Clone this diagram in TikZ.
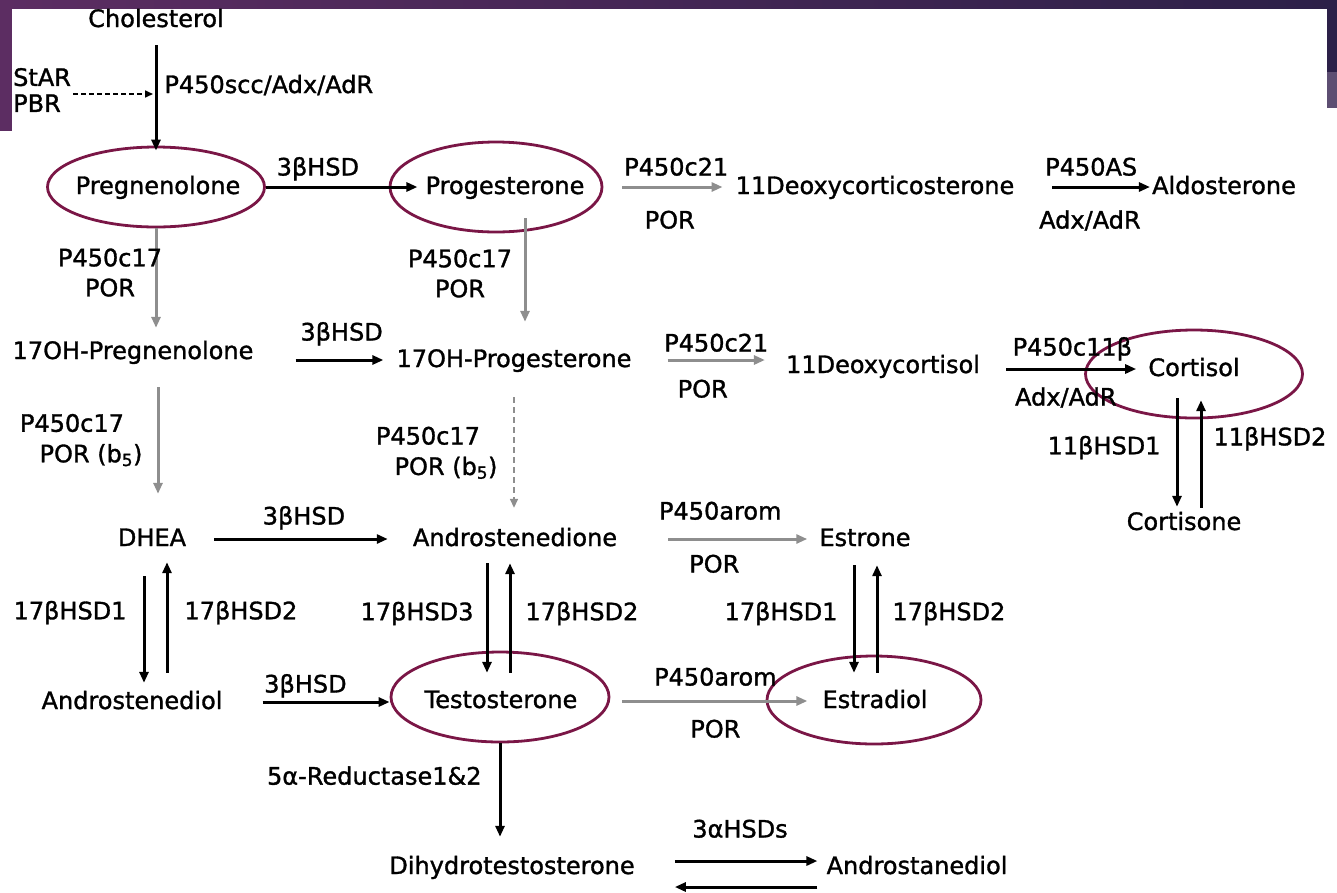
\documentclass[tikz,border=0pt]{standalone}
\usepackage{fontspec}
\setmainfont{DejaVu Sans}[FakeBold=1.3]
\usepackage{xcolor}
\usetikzlibrary{arrows.meta, positioning, shapes.geometric}
\definecolor{ringPurple}{HTML}{7A1646}
\definecolor{barPlum}{HTML}{5C2D62}
\definecolor{barNavy}{HTML}{2C2048}
\definecolor{barLilac}{HTML}{5D4E72}
\definecolor{pathGray}{HTML}{8E8E8E}

\begin{document}
\begin{tikzpicture}[x=1pt, y=-1pt,
      every node/.style={font=\fontsize{24}{26}\selectfont, inner sep=2pt, text=black},
      chem/.style={text height=18pt, text depth=4pt},
      ring/.style={ellipse, draw=ringPurple, line width=2.8pt, inner sep=0pt},
      blk/.style={-{Triangle[length=11pt, width=9pt]}, line width=3pt},
      gry/.style={blk, pathGray},
      gdash/.style={-{Triangle[length=9pt, width=8pt]}, line width=1.5pt,
                    pathGray, dash pattern=on 6pt off 4pt},
      kdash/.style={-{Triangle[length=8pt, width=7pt]}, line width=1.6pt,
                    dash pattern=on 5pt off 3pt},
    ]
      \useasboundingbox (0,0) rectangle (1337,892);
      \fill[left color=barPlum, right color=barNavy] (0,0) rectangle (1337,8);
      \fill[barPlum] (0,0) rectangle (12,131);
      \fill[barNavy] (1327,0) rectangle (1337,72);
      \fill[barLilac] (1327,72) rectangle (1337,108);

      \node[chem] (chol)      at (156,20)  {Cholesterol};
      \node[align=left, anchor=west] (starpbr) at (11,90) {StAR\\PBR};
      \node[chem] (preg)      at (158,187) {Pregnenolone};
      \node[chem] (prog)      at (505,187) {Progesterone};
      \node[chem] (doc)       at (875,187) {11Deoxycorticosterone};
      \node[chem] (aldo)      at (1224,187) {Aldosterone};
      \node[chem] (ohpreg)    at (133,352) {17OH-Pregnenolone};
      \node[chem] (ohprog)    at (514,360) {17OH-Progesterone};
      \node[chem] (deoxcort)  at (883,366) {11Deoxycortisol};
      \node[chem] (cortisol)  at (1194,369) {Cortisol};
      \node[chem] (cortisone) at (1184,523) {Cortisone};
      \node[chem] (dhea)      at (152,539) {DHEA};
      \node[chem] (andro)     at (515,539) {Androstenedione};
      \node[chem] (estrone)   at (865,539) {Estrone};
      \node[chem] (adiol)     at (132,702) {Androstenediol};
      \node[chem] (testo)     at (501,701) {Testosterone};
      \node[chem] (estradiol) at (875,701) {Estradiol};
      \node[chem] (dht)       at (512,867) {Dihydrotestosterone};
      \node[chem] (adiolb)    at (917,867) {Androstanediol};

      \node[ring, minimum width=217pt, minimum height=80pt] (pregR)  at (156,187) {};
      \node[ring, minimum width=212pt, minimum height=90pt] (progR)  at (496,187) {};
      \node[ring, minimum width=217pt, minimum height=88pt] (cortR)  at (1194,374) {};
      \node[ring, minimum width=218pt, minimum height=90pt] (testoR) at (500,697) {};
      \node[ring, minimum width=214pt, minimum height=88pt] (estrR)  at (874,700) {};

      \coordinate (sccin) at (153,94);
      \draw[blk, shorten <=12pt, shorten >=-5pt] (chol) -- (pregR)
        node[chem, pos=.47, right=5pt] {P450scc/Adx/AdR};
      \draw[kdash] (starpbr.east |- sccin) -- (sccin);

      \draw[blk, shorten >=6pt] (pregR.east) -- (prog.west)
        node[chem, pos=.33, above=4pt] {3βHSD};
      \draw[gry, shorten <=19pt, shorten >=11pt] (progR.east) -- (doc.west)
        node[chem, pos=.56, above=4pt] {P450c21}
        node[chem, pos=.51, below=20pt] {POR};
      \draw[blk, shorten <=36pt] (doc.east) -- (aldo.west)
        node[chem, pos=.56, above=4pt] {P450AS}
        node[chem, pos=.55, below=20pt] {Adx/AdR};

      \draw[gry, shorten >=11pt] (pregR.south) -- (pregR.south |- ohpreg.north)
        node[pos=.4, xshift=-46pt, align=center] {P450c17\\[4pt]POR};
      \draw[gry, shorten <=18pt, shorten >=25pt]
        ([xshift=20pt]prog.south) -- ([xshift=20pt]prog.south |- ohprog.north)
        node[pos=.5, xshift=-65pt, align=center] {P450c17\\[4pt]POR};

      \draw[blk, shorten <=40pt, shorten >=11pt] (ohpreg.east |- ohprog) -- (ohprog.west)
        node[chem, pos=.62, above=12pt] {3βHSD};
      \draw[gry, shorten <=34pt, shorten >=19pt] (ohprog.east) -- (ohprog.east -| deoxcort.west)
        node[chem, pos=.55, above=1pt] {P450c21}
        node[chem, pos=.46, below=16pt] {POR};
      \draw[blk, shorten <=24pt, shorten >=10pt] (deoxcort.east |- cortisol) -- (cortisol.west)
        node[chem, pos=.55, above=6pt] {P450c11β}
        node[chem, pos=.51, below=15pt] {Adx/AdR};

      \draw[blk, shorten <=16pt, shorten >=3pt]
        ([xshift=-17pt]cortisol.south) -- ([xshift=-17pt]cortisol.south |- cortisone.north)
        node[chem, pos=.51, left=13pt] {11βHSD1};
      \draw[blk, shorten <=2pt, shorten >=18pt]
        ([xshift=7pt]cortisol.south |- cortisone.north) -- ([xshift=7pt]cortisol.south)
        node[chem, pos=.56, right=9pt] {11βHSD2};

      \draw[gry, shorten <=22pt, shorten >=32pt]
        ([xshift=25pt]ohpreg.south) -- ([xshift=25pt]ohpreg.south |- dhea.north)
        node[pos=.36, xshift=-86pt] {P450c17}
        node[pos=.56, xshift=-67pt] {POR (b\textsubscript{5})};
      \draw[gdash, shorten <=24pt, shorten >=18pt] (ohprog.south) -- (ohprog.south |- andro.north)
        node[pos=.41, xshift=-86pt] {P450c17}
        node[pos=.62, xshift=-68pt] {POR (b\textsubscript{5})};

      \draw[blk, shorten <=26pt, shorten >=23pt] (dhea.east) -- (andro.west)
        node[chem, pos=.52, above=7pt] {3βHSD};
      \draw[gry, shorten <=49pt, shorten >=10pt] (andro.east) -- (estrone.west)
        node[chem, pos=.51, above=12pt] {P450arom}
        node[chem, pos=.48, below=12pt] {POR};

      \draw[blk, shorten <=24pt, shorten >=6pt]
        ([xshift=-8pt]dhea.south) -- ([xshift=-8pt]dhea.south |- adiol.north)
        node[chem, pos=.44, left=14pt] {17βHSD1};
      \draw[blk, shorten <=16pt, shorten >=10pt]
        ([xshift=15pt]dhea.south |- adiol.north) -- ([xshift=15pt]dhea.south)
        node[chem, pos=.56, right=14pt] {17βHSD2};
      \draw[blk, shorten <=11pt, shorten >=15pt]
        ([xshift=-28pt]andro.south) -- ([xshift=-28pt]andro.south |- testo.north)
        node[chem, pos=.45, left=10pt] {17βHSD3};
      \draw[blk, shorten <=15pt, shorten >=11pt]
        ([xshift=-5pt]andro.south |- testo.north) -- ([xshift=-5pt]andro.south)
        node[chem, pos=.55, right=12pt] {17βHSD2};
      \draw[blk, shorten <=13pt, shorten >=15pt]
        ([xshift=-11pt]estrone.south) -- ([xshift=-11pt]estrone.south |- estradiol.north)
        node[chem, pos=.45, left=13pt] {17βHSD1};
      \draw[blk, shorten <=15pt, shorten >=13pt]
        ([xshift=12pt]estrone.south |- estradiol.north) -- ([xshift=12pt]estrone.south)
        node[chem, pos=.55, right=12pt] {17βHSD2};

      \draw[blk, shorten <=38pt] (adiol.east) -- (adiol.east -| testoR.west)
        node[chem, pos=.49, above=2pt] {3βHSD};
      \draw[gry, shorten <=12pt, shorten >=13pt] (testoR.east |- estradiol) -- (estradiol.west)
        node[chem, pos=.5, above=8pt] {P450arom}
        node[chem, pos=.5, below=15pt] {POR};
      \draw[blk, shorten >=17pt] (testoR.south) -- (testoR.south |- dht.north)
        node[chem, pos=.31, left=15pt] {5α-Reductase1\&2};

      \draw[blk, shorten <=38pt, shorten >=7pt]
        ([yshift=6pt]dht.east) -- ([yshift=6pt]dht.east -| adiolb.west)
        node[chem, pos=.55, above=16pt] {3αHSDs};
      \draw[blk, shorten <=7pt, shorten >=38pt]
        ([yshift=-20pt]adiolb.west) -- ([yshift=-20pt]adiolb.west -| dht.east);
    \end{tikzpicture}
\end{document}
